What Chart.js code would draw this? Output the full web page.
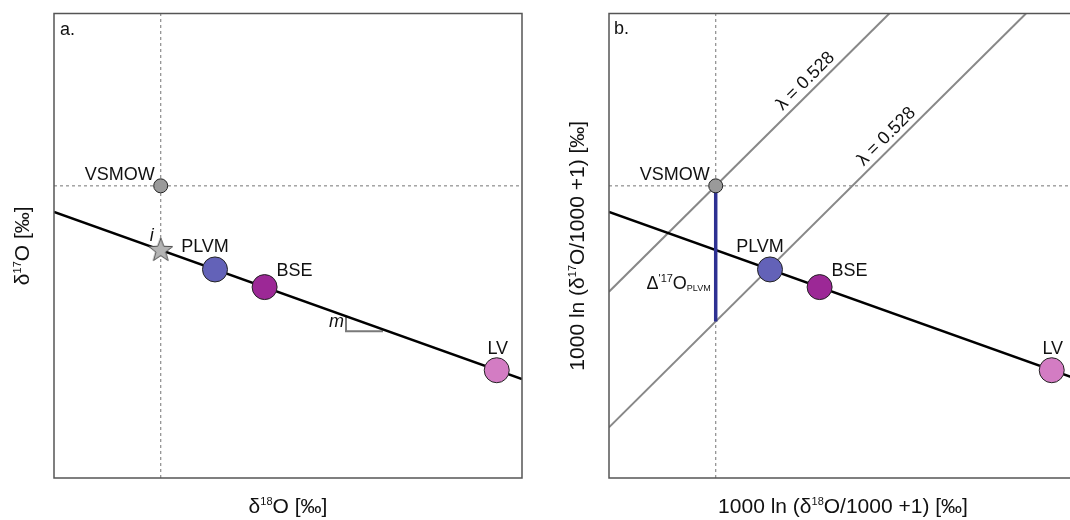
<!DOCTYPE html>
<html>
<head>
<meta charset="utf-8">
<script src="https://cdn.jsdelivr.net/npm/chart.js@4.4.1/dist/chart.umd.min.js"></script>
<style>
    html, body { margin: 0; padding: 0; background: #fff; overflow: hidden; width: 1070px; height: 520px; }
    .panel { position: absolute; top: 0; width: 540px; height: 520px; }
    #wrapA { left: 0; }
    #wrapB { left: 555px; }
</style>
</head>
<body>
<div class="panel" id="wrapA"><canvas id="chartA" width="540" height="520"></canvas></div>
<div class="panel" id="wrapB"><canvas id="chartB" width="540" height="520"></canvas></div>
<script>
// values (arbitrary units, axes run 0..100)
const samples = ["VSMOW", "PLVM", "BSE", "LV"];
const d18O = [22.8, 34.4, 45.0, 94.6];
const d17O = [62.9, 44.9, 41.1, 23.2];

const interceptX = [22.8];      // "i" star
const interceptY = [49.1];

const mixLineX = [0, 100];
const mixLineY = [57.3, 21.3];

const slopeMarkX = [62.4, 62.4, 70.3];
const slopeMarkY = [34.8, 31.6, 31.6];

const lambda1X = [0, 59.9];
const lambda1Y = [40.1, 100];
const lambda2X = [0, 89.1];
const lambda2Y = [10.9, 100];

const deltaX = [22.8, 22.8];    // Δ'17O PLVM bar
const deltaY = [62.9, 33.7];

const refX = 22.8;              // VSMOW reference lines
const refY = 62.9;

const FONT = '"Liberation Sans", Arial, Helvetica, sans-serif';
const sampleColors = ["#9a9a9a", "#6362b8", "#9c2896", "#d37cc3"];
const sampleRadius = [7, 12.5, 12.5, 12.5];

function pts(xs, ys) {
    return xs.map((x, i) => ({ x: x, y: ys[i] }));
}

// filled five point star used as point style
function makeStar() {
    const c = document.createElement("canvas");
    c.width = 28;
    c.height = 28;
    const g = c.getContext("2d");
    g.beginPath();
    for (let k = 0; k < 10; k++) {
        const r = k % 2 === 0 ? 12.5 : 5.2;
        const a = -Math.PI / 2 + k * Math.PI / 5;
        const px = 14 + r * Math.cos(a);
        const py = 14.5 + r * Math.sin(a);
        if (k === 0) g.moveTo(px, py); else g.lineTo(px, py);
    }
    g.closePath();
    g.fillStyle = "#b4b4b4";
    g.fill();
    g.strokeStyle = "#4a4a4a";
    g.lineWidth = 1;
    g.stroke();
    return c;
}

function drawRich(ctx, parts, x, y, align, angle, baseline) {
    ctx.save();
    ctx.translate(x, y);
    if (angle) ctx.rotate(angle);
    ctx.textBaseline = baseline || "alphabetic";
    ctx.fillStyle = "#111";
    let total = 0;
    parts.forEach(p => {
        ctx.font = (p.italic ? "italic " : "") + (p.size || 18) + "px " + FONT;
        p.w = ctx.measureText(p.t).width;
        total += p.w;
    });
    let cx = align === "right" ? -total : align === "center" ? -total / 2 : 0;
    parts.forEach(p => {
        ctx.font = (p.italic ? "italic " : "") + (p.size || 18) + "px " + FONT;
        ctx.fillText(p.t, cx, -(p.rise || 0));
        cx += p.w;
    });
    ctx.restore();
}

const annotate = {
    id: "annotate",
    afterDatasetsDraw(chart, args, opts) {
        const ctx = chart.ctx;
        const area = chart.chartArea;
        const xs = chart.scales.x, ys = chart.scales.y;

        // frame
        ctx.save();
        ctx.strokeStyle = "#555";
        ctx.lineWidth = 1.5;
        ctx.strokeRect(area.left, area.top, area.right - area.left, area.bottom - area.top);
        ctx.restore();

        opts.labels.forEach(l => {
            drawRich(ctx, l.parts,
                xs.getPixelForValue(l.x) + (l.dx || 0),
                ys.getPixelForValue(l.y) + (l.dy || 0),
                l.align, l.angle, l.baseline);
        });

        // axis titles
        drawRich(ctx, opts.xTitle, (area.left + area.right) / 2, area.bottom + 35, "center");
        drawRich(ctx, opts.yTitle, area.left - 25, (area.top + area.bottom) / 2, "center", -Math.PI / 2);
    }
};

function sampleLabels() {
    return [
        { parts: [{ t: samples[0] }], x: d18O[0], y: d17O[0], dx: -6, dy: -5.5, align: "right" },
        { parts: [{ t: samples[1] }], x: d18O[1], y: d17O[1], dx: -10, dy: -17, align: "center" },
        { parts: [{ t: samples[2] }], x: d18O[2], y: d17O[2], dx: 30, dy: -11, align: "center" },
        { parts: [{ t: samples[3] }], x: d18O[3], y: d17O[3], dx: 1, dy: -16, align: "center" }
    ];
}

function baseDatasets() {
    return [
        {
            data: pts(d18O, d17O),
            backgroundColor: sampleColors,
            borderColor: "#222",
            borderWidth: 1,
            pointRadius: sampleRadius,
            order: 0
        },
        {
            data: pts(mixLineX, mixLineY),
            showLine: true,
            borderColor: "#000",
            borderWidth: 2.5,
            pointRadius: 0,
            order: 3
        },
        {
            data: [{ x: refX, y: 0 }, { x: refX, y: 100 }],
            showLine: true,
            borderColor: "#8c8c8c",
            borderWidth: 1.2,
            borderDash: [3, 3],
            pointRadius: 0,
            order: 6
        },
        {
            data: [{ x: 0, y: refY }, { x: 100, y: refY }],
            showLine: true,
            borderColor: "#8c8c8c",
            borderWidth: 1.2,
            borderDash: [3, 3],
            pointRadius: 0,
            order: 6
        }
    ];
}

function makePanel(id, datasets, labels, xTitle, yTitle) {
    return new Chart(document.getElementById(id), {
        type: "scatter",
        data: { datasets: datasets },
        options: {
            responsive: false,
            animation: false,
            events: [],
            layout: { padding: { left: 54, right: 18, top: 10, bottom: 42 } },
            scales: {
                x: { type: "linear", min: 0, max: 100, display: false },
                y: { type: "linear", min: 0, max: 100, display: false }
            },
            plugins: {
                legend: { display: false },
                tooltip: { enabled: false },
                annotate: { labels: labels, xTitle: xTitle, yTitle: yTitle }
            }
        },
        plugins: [annotate]
    });
}

// panel a
const dsA = baseDatasets();
dsA.push(
    {
        data: pts(interceptX, interceptY),
        pointStyle: makeStar(),
        pointRadius: 12,
        order: 1
    },
    {
        data: pts(slopeMarkX, slopeMarkY),
        showLine: true,
        borderColor: "#7a7a7a",
        borderWidth: 2,
        pointRadius: 0,
        order: 4
    }
);
const labelsA = sampleLabels().concat([
    { parts: [{ t: "i", italic: true }], x: interceptX[0], y: interceptY[0], dx: -9, dy: -9, align: "center" },
    { parts: [{ t: "m", italic: true }], x: slopeMarkX[1], y: slopeMarkY[1], dx: -2, dy: -4, align: "right" },
    { parts: [{ t: "a." }], x: 0, y: 100, dx: 6, dy: 21, align: "left" }
]);
makePanel("chartA", dsA, labelsA,
    [{ t: "δ", size: 21 }, { t: "18", size: 11, rise: 8 }, { t: "O [‰]", size: 21 }],
    [{ t: "δ", size: 21 }, { t: "17", size: 11, rise: 8 }, { t: "O [‰]", size: 21 }]);

// panel b
const dsB = baseDatasets();
dsB.push(
    {
        data: pts(deltaX, deltaY),
        showLine: true,
        borderColor: "#2e3192",
        borderWidth: 3.5,
        pointRadius: 0,
        order: 2
    },
    {
        data: pts(lambda1X, lambda1Y),
        showLine: true,
        borderColor: "#888",
        borderWidth: 2,
        pointRadius: 0,
        order: 5
    },
    {
        data: pts(lambda2X, lambda2Y),
        showLine: true,
        borderColor: "#888",
        borderWidth: 2,
        pointRadius: 0,
        order: 5
    }
);
const labelsB = sampleLabels().concat([
    { parts: [{ t: "λ = 0.528" }], x: 42.0, y: 82.1, dx: 0, dy: -15.4, align: "center", angle: -Math.PI / 4, baseline: "middle" },
    { parts: [{ t: "λ = 0.528" }], x: 59.3, y: 70.2, dx: 0, dy: -15.4, align: "center", angle: -Math.PI / 4, baseline: "middle" },
    {
        parts: [{ t: "Δ", size: 18 }, { t: "'17", size: 11, rise: 7 }, { t: "O", size: 18 }, { t: "PLVM", size: 9, rise: -2.5 }],
        x: deltaX[1], y: deltaY[1], dx: -5, dy: -32.5, align: "right"
    },
    { parts: [{ t: "b." }], x: 0, y: 100, dx: 5, dy: 20, align: "left" }
]);
makePanel("chartB", dsB, labelsB,
    [{ t: "1000 ln (δ", size: 21 }, { t: "18", size: 11, rise: 8 }, { t: "O/1000 +1) [‰]", size: 21 }],
    [{ t: "1000 ln (δ", size: 21 }, { t: "17", size: 11, rise: 8 }, { t: "O/1000 +1) [‰]", size: 21 }]);
</script>
</body>
</html>
